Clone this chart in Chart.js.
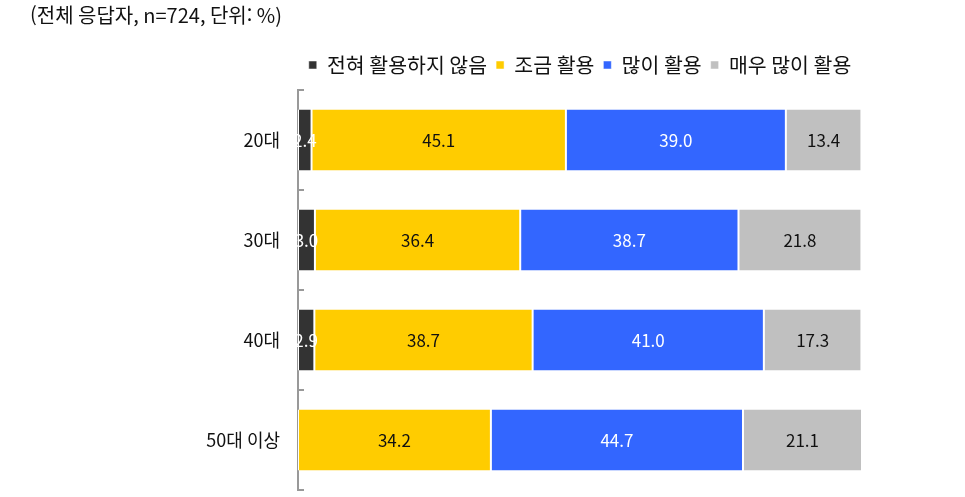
<!DOCTYPE html>
<html lang="ko">
<head>
<meta charset="utf-8">
<title>연령대별 활용 정도</title>
<script src="https://cdn.jsdelivr.net/npm/chart.js@4/dist/chart.umd.min.js"></script>
<style>
  html, body { margin: 0; padding: 0; background: #fff; }
  #wrap { width: 965px; height: 497px; }
</style>
</head>
<body>
<div id="wrap"><canvas id="usageChart" width="965" height="497"></canvas></div>
<script>
'use strict';

//chart data: one array per series, in the same order as the age groups
const ageGroups = ['20대', '30대', '40대', '50대 이상'];
const seriesNames = ['전혀 활용하지 않음', '조금 활용', '많이 활용', '매우 많이 활용'];
const neverUse = [2.4, 3.0, 2.9, 0];
const littleUse = [45.1, 36.4, 38.7, 34.2];
const muchUse = [39.0, 38.7, 41.0, 44.7];
const veryMuchUse = [13.4, 21.8, 17.3, 21.1];
const noteText = '(전체 응답자, n=724, 단위: %)';

const seriesColors = ['#333333', '#FFCC00', '#3366FF', '#C0C0C0'];
const labelColors = ['#ffffff', '#111111', '#ffffff', '#111111'];
const fontFamily = '"Noto Sans CJK KR", "Noto Sans", sans-serif';

//writes the value in the middle of each bar segment
const valueLabels = {
  id: 'valueLabels',
  afterDatasetsDraw(chart){
    let ctx = chart.ctx;
    ctx.save();
    ctx.font = `17px ${fontFamily}`;
    ctx.textAlign = 'center';
    ctx.textBaseline = 'middle';
    chart.data.datasets.forEach(function(ds, di){
      let meta = chart.getDatasetMeta(di);
      meta.data.forEach(function(bar, i){
        let v = ds.data[i];
        if (!v) {
          return;
        }
        let p = bar.getCenterPoint();
        ctx.fillStyle = labelColors[di];
        ctx.fillText(v.toFixed(1), p.x, p.y + 1);
      });
    });
    ctx.restore();
  }
};

//short tick marks on the inside of the category axis, at each boundary
const innerTicks = {
  id: 'innerTicks',
  afterDraw(chart){
    let ctx = chart.ctx;
    let y = chart.scales.y;
    let x0 = chart.chartArea.left;
    ctx.save();
    ctx.strokeStyle = '#999999';
    ctx.lineWidth = 2;
    for (let i = 0; i <= ageGroups.length; i++){
      let py = Math.round(y.getPixelForValue(i - 0.5));
      ctx.beginPath();
      ctx.moveTo(x0 - 1, py);
      ctx.lineTo(x0 + 6, py);
      ctx.stroke();
    }
    ctx.restore();
  }
};

function makeDataset(name, values, color){
  return {
    label: name,
    data: values,
    backgroundColor: color,
    borderColor: '#ffffff',
    borderWidth: {left: 1, right: 1, top: 0, bottom: 0},
    borderSkipped: false
  };
}

const config = {
  type: 'bar',
  data: {
    labels: ageGroups,
    datasets: [
      makeDataset(seriesNames[0], neverUse, seriesColors[0]),
      makeDataset(seriesNames[1], littleUse, seriesColors[1]),
      makeDataset(seriesNames[2], muchUse, seriesColors[2]),
      makeDataset(seriesNames[3], veryMuchUse, seriesColors[3])
    ]
  },
  options: {
    indexAxis: 'y',
    responsive: false,
    animation: false,
    devicePixelRatio: 1,
    layout: {padding: {left: 30, right: 103, top: 0, bottom: 7}},
    datasets: {bar: {categoryPercentage: 1, barPercentage: 0.61}},
    scales: {
      x: {
        stacked: true,
        min: 0,
        max: 100,
        position: 'top',
        ticks: {display: false},
        grid: {display: false},
        border: {display: false},
        afterFit: function(s){ s.height = 4.75; }
      },
      y: {
        stacked: true,
        grid: {display: false, drawTicks: false},
        border: {display: true, color: '#999999', width: 2},
        ticks: {color: '#111111', padding: 18, font: {family: fontFamily, size: 18}},
        //fixed width, and no extra room above/below for the labels
        afterFit: function(s){
          s.width = 268;
          s.paddingTop = 0;
          s.paddingBottom = 0;
        }
      }
    },
    plugins: {
      title: {
        display: true,
        text: noteText,
        align: 'start',
        color: '#111111',
        font: {family: fontFamily, size: 20, weight: 'normal'},
        padding: {top: 3, bottom: 18.75}
      },
      legend: {
        position: 'top',
        fullSize: false,
        labels: {
          color: '#111111',
          boxWidth: 8,
          boxHeight: 8,
          padding: 9,
          font: {family: fontFamily, size: 20.5}
        }
      },
      tooltip: {enabled: false}
    }
  },
  plugins: [valueLabels, innerTicks]
};

const usageChart = new Chart(document.getElementById('usageChart'), config);
</script>
</body>
</html>
